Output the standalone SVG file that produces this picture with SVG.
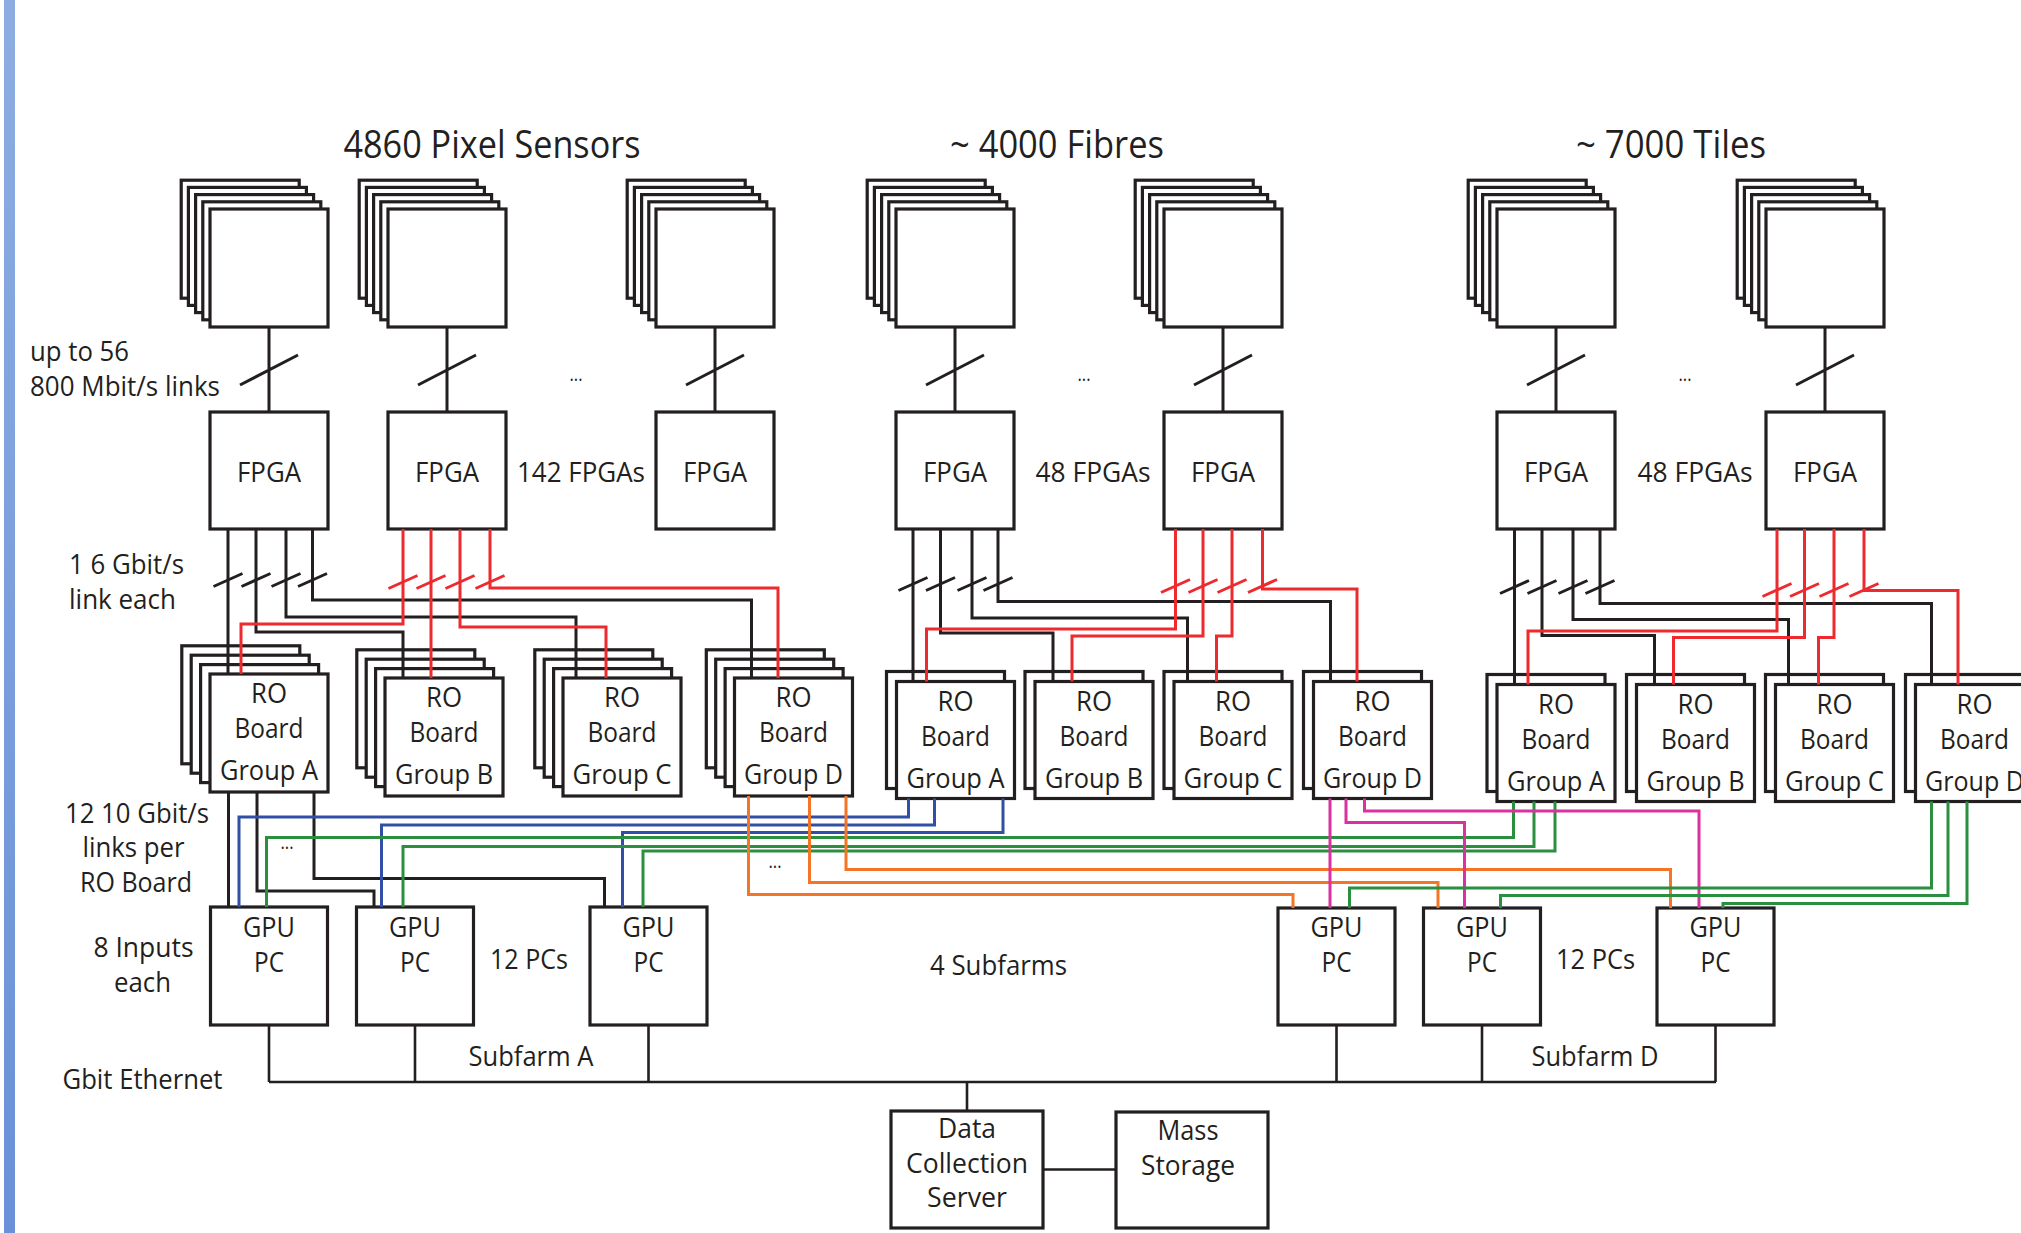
<svg xmlns="http://www.w3.org/2000/svg" width="2021" height="1233" viewBox="0 0 2021 1233">
<style>
text{font-family:"Open Sans","Noto Sans","DejaVu Sans",sans-serif;font-size:28px;fill:#231f20}
.c{text-anchor:middle}
.ti{font-size:39px}
.dots{font-size:20px}
.bx{fill:#fff;stroke:#231f20;stroke-width:3.2}
.w{fill:none;stroke-width:3;stroke-linejoin:miter;stroke-linecap:butt}
.k{stroke:#231f20}
.r{stroke:#ee2a2f}
.b{stroke:#3150a5}
.g{stroke:#2a9040}
.o{stroke:#f47525}
.m{stroke:#dc30a0}
.eth{fill:none;stroke:#231f20;stroke-width:2.6}
</style>
<defs>
<linearGradient id="bar" x1="0" y1="0" x2="0" y2="1">
<stop offset="0" stop-color="#8dade2"/><stop offset="1" stop-color="#6a91d7"/>
</linearGradient>
<g id="sstack" fill="#fff" stroke="#231f20" stroke-width="3.2">
<rect x="-28.8" y="-28.8" width="118" height="118"/>
<rect x="-21.6" y="-21.6" width="118" height="118"/>
<rect x="-14.4" y="-14.4" width="118" height="118"/>
<rect x="-7.2" y="-7.2" width="118" height="118"/>
<rect x="0" y="0" width="118" height="118"/>
</g>
<g id="rstack3" fill="#fff" stroke="#231f20" stroke-width="3.2">
<rect x="-28.2" y="-28.2" width="118" height="118"/>
<rect x="-18.8" y="-18.8" width="118" height="118"/>
<rect x="-9.4" y="-9.4" width="118" height="118"/>
<rect x="0" y="0" width="118" height="118"/>
</g>
<g id="rstack1" fill="#fff" stroke="#231f20" stroke-width="3.2">
<rect x="-10" y="-10" width="118" height="117"/>
<rect x="0" y="0" width="118" height="117"/>
</g>
</defs>
<rect x="0" y="0" width="2021" height="1233" fill="#fff"/>
<rect x="4" y="0" width="11" height="1233" fill="url(#bar)"/>

<g id="labels">
<text class="c ti" x="492" y="158" textLength="297" lengthAdjust="spacingAndGlyphs">4860 Pixel Sensors</text>
<text class="c ti" x="1057" y="158" textLength="214" lengthAdjust="spacingAndGlyphs">~ 4000 Fibres</text>
<text class="c ti" x="1671" y="158" textLength="190" lengthAdjust="spacingAndGlyphs">~ 7000 Tiles</text>
<text x="30" y="361" textLength="99" lengthAdjust="spacingAndGlyphs">up to 56</text>
<text x="30" y="396" textLength="190" lengthAdjust="spacingAndGlyphs">800 Mbit/s links</text>
<text class="c dots" x="576" y="381" textLength="13" lengthAdjust="spacingAndGlyphs">...</text>
<text class="c dots" x="1084" y="381" textLength="13" lengthAdjust="spacingAndGlyphs">...</text>
<text class="c dots" x="1685" y="381" textLength="13" lengthAdjust="spacingAndGlyphs">...</text>
<text class="c" x="581" y="482" textLength="128" lengthAdjust="spacingAndGlyphs">142 FPGAs</text>
<text class="c" x="1093" y="482" textLength="115" lengthAdjust="spacingAndGlyphs">48 FPGAs</text>
<text class="c" x="1695" y="482" textLength="115" lengthAdjust="spacingAndGlyphs">48 FPGAs</text>
<text x="69" y="574" textLength="115" lengthAdjust="spacingAndGlyphs">1 6 Gbit/s</text>
<text x="69" y="608.5" textLength="107" lengthAdjust="spacingAndGlyphs">link each</text>
<text class="c" x="137" y="822.5" textLength="144" lengthAdjust="spacingAndGlyphs">12 10 Gbit/s</text>
<text class="c" x="133.5" y="857" textLength="102" lengthAdjust="spacingAndGlyphs">links per</text>
<text class="c" x="136" y="892" textLength="112" lengthAdjust="spacingAndGlyphs">RO Board</text>
<text class="c dots" x="287" y="849" textLength="13" lengthAdjust="spacingAndGlyphs">...</text>
<text class="c dots" x="775" y="868" textLength="13" lengthAdjust="spacingAndGlyphs">...</text>
<text class="c" x="143.5" y="957" textLength="100" lengthAdjust="spacingAndGlyphs">8 Inputs</text>
<text class="c" x="142.5" y="992" textLength="57" lengthAdjust="spacingAndGlyphs">each</text>
<text class="c" x="529" y="968.5" textLength="78" lengthAdjust="spacingAndGlyphs">12 PCs</text>
<text class="c" x="1595.5" y="968.5" textLength="79" lengthAdjust="spacingAndGlyphs">12 PCs</text>
<text class="c" x="998.5" y="975" textLength="137" lengthAdjust="spacingAndGlyphs">4 Subfarms</text>
<text class="c" x="531" y="1065.5" textLength="125" lengthAdjust="spacingAndGlyphs">Subfarm A</text>
<text class="c" x="1595" y="1065.5" textLength="127" lengthAdjust="spacingAndGlyphs">Subfarm D</text>
<text x="62.5" y="1089" textLength="160" lengthAdjust="spacingAndGlyphs">Gbit Ethernet</text>
</g>

<g id="sensor-px1"><use href="#sstack" x="210" y="209"/></g>
<g id="sensor-px2"><use href="#sstack" x="388" y="209"/></g>
<g id="sensor-px3"><use href="#sstack" x="656" y="209"/></g>
<g id="sensor-fb1"><use href="#sstack" x="896" y="209"/></g>
<g id="sensor-fb2"><use href="#sstack" x="1164" y="209"/></g>
<g id="sensor-tl1"><use href="#sstack" x="1497" y="209"/></g>
<g id="sensor-tl2"><use href="#sstack" x="1766" y="209"/></g>

<g id="fpga-px1"><rect class="bx" x="210" y="412" width="118" height="117"/><text class="c" x="269" y="482" textLength="64" lengthAdjust="spacingAndGlyphs">FPGA</text></g>
<g id="fpga-px2"><rect class="bx" x="388" y="412" width="118" height="117"/><text class="c" x="447" y="482" textLength="64" lengthAdjust="spacingAndGlyphs">FPGA</text></g>
<g id="fpga-px3"><rect class="bx" x="656" y="412" width="118" height="117"/><text class="c" x="715" y="482" textLength="64" lengthAdjust="spacingAndGlyphs">FPGA</text></g>
<g id="fpga-fb1"><rect class="bx" x="896" y="412" width="118" height="117"/><text class="c" x="955" y="482" textLength="64" lengthAdjust="spacingAndGlyphs">FPGA</text></g>
<g id="fpga-fb2"><rect class="bx" x="1164" y="412" width="118" height="117"/><text class="c" x="1223" y="482" textLength="64" lengthAdjust="spacingAndGlyphs">FPGA</text></g>
<g id="fpga-tl1"><rect class="bx" x="1497" y="412" width="118" height="117"/><text class="c" x="1556" y="482" textLength="64" lengthAdjust="spacingAndGlyphs">FPGA</text></g>
<g id="fpga-tl2"><rect class="bx" x="1766" y="412" width="118" height="117"/><text class="c" x="1825" y="482" textLength="64" lengthAdjust="spacingAndGlyphs">FPGA</text></g>

<g id="ro-px-a"><use href="#rstack3" x="210" y="674"/><text class="c" x="269" y="703" textLength="36" lengthAdjust="spacingAndGlyphs">RO</text><text class="c" x="269" y="738" textLength="69" lengthAdjust="spacingAndGlyphs">Board</text><text class="c" x="269" y="780" textLength="98" lengthAdjust="spacingAndGlyphs">Group A</text></g>
<g id="ro-px-b"><use href="#rstack3" x="385" y="678"/><text class="c" x="444" y="707" textLength="36" lengthAdjust="spacingAndGlyphs">RO</text><text class="c" x="444" y="742" textLength="69" lengthAdjust="spacingAndGlyphs">Board</text><text class="c" x="444" y="784" textLength="98" lengthAdjust="spacingAndGlyphs">Group B</text></g>
<g id="ro-px-c"><use href="#rstack3" x="563" y="678"/><text class="c" x="622" y="707" textLength="36" lengthAdjust="spacingAndGlyphs">RO</text><text class="c" x="622" y="742" textLength="69" lengthAdjust="spacingAndGlyphs">Board</text><text class="c" x="622" y="784" textLength="99" lengthAdjust="spacingAndGlyphs">Group C</text></g>
<g id="ro-px-d"><use href="#rstack3" x="734.5" y="678"/><text class="c" x="793.5" y="707" textLength="36" lengthAdjust="spacingAndGlyphs">RO</text><text class="c" x="793.5" y="742" textLength="69" lengthAdjust="spacingAndGlyphs">Board</text><text class="c" x="793.5" y="784" textLength="99" lengthAdjust="spacingAndGlyphs">Group D</text></g>

<g id="ro-fb-a"><use href="#rstack1" x="896.5" y="681.5"/><text class="c" x="955.5" y="710.5" textLength="36" lengthAdjust="spacingAndGlyphs">RO</text><text class="c" x="955.5" y="745.5" textLength="69" lengthAdjust="spacingAndGlyphs">Board</text><text class="c" x="955.5" y="787.5" textLength="98" lengthAdjust="spacingAndGlyphs">Group A</text></g>
<g id="ro-fb-b"><use href="#rstack1" x="1035" y="681.5"/><text class="c" x="1094" y="710.5" textLength="36" lengthAdjust="spacingAndGlyphs">RO</text><text class="c" x="1094" y="745.5" textLength="69" lengthAdjust="spacingAndGlyphs">Board</text><text class="c" x="1094" y="787.5" textLength="98" lengthAdjust="spacingAndGlyphs">Group B</text></g>
<g id="ro-fb-c"><use href="#rstack1" x="1174" y="681.5"/><text class="c" x="1233" y="710.5" textLength="36" lengthAdjust="spacingAndGlyphs">RO</text><text class="c" x="1233" y="745.5" textLength="69" lengthAdjust="spacingAndGlyphs">Board</text><text class="c" x="1233" y="787.5" textLength="99" lengthAdjust="spacingAndGlyphs">Group C</text></g>
<g id="ro-fb-d"><use href="#rstack1" x="1313.5" y="681.5"/><text class="c" x="1372.5" y="710.5" textLength="36" lengthAdjust="spacingAndGlyphs">RO</text><text class="c" x="1372.5" y="745.5" textLength="69" lengthAdjust="spacingAndGlyphs">Board</text><text class="c" x="1372.5" y="787.5" textLength="99" lengthAdjust="spacingAndGlyphs">Group D</text></g>

<g id="ro-tl-a"><use href="#rstack1" x="1497" y="684.5"/><text class="c" x="1556" y="713.5" textLength="36" lengthAdjust="spacingAndGlyphs">RO</text><text class="c" x="1556" y="748.5" textLength="69" lengthAdjust="spacingAndGlyphs">Board</text><text class="c" x="1556" y="790.5" textLength="98" lengthAdjust="spacingAndGlyphs">Group A</text></g>
<g id="ro-tl-b"><use href="#rstack1" x="1636.5" y="684.5"/><text class="c" x="1695.5" y="713.5" textLength="36" lengthAdjust="spacingAndGlyphs">RO</text><text class="c" x="1695.5" y="748.5" textLength="69" lengthAdjust="spacingAndGlyphs">Board</text><text class="c" x="1695.5" y="790.5" textLength="98" lengthAdjust="spacingAndGlyphs">Group B</text></g>
<g id="ro-tl-c"><use href="#rstack1" x="1775.5" y="684.5"/><text class="c" x="1834.5" y="713.5" textLength="36" lengthAdjust="spacingAndGlyphs">RO</text><text class="c" x="1834.5" y="748.5" textLength="69" lengthAdjust="spacingAndGlyphs">Board</text><text class="c" x="1834.5" y="790.5" textLength="99" lengthAdjust="spacingAndGlyphs">Group C</text></g>
<g id="ro-tl-d"><use href="#rstack1" x="1915.5" y="684.5"/><text class="c" x="1974.5" y="713.5" textLength="36" lengthAdjust="spacingAndGlyphs">RO</text><text class="c" x="1974.5" y="748.5" textLength="69" lengthAdjust="spacingAndGlyphs">Board</text><text class="c" x="1974.5" y="790.5" textLength="99" lengthAdjust="spacingAndGlyphs">Group D</text></g>

<g id="gpu-a1"><rect class="bx" x="210.5" y="907" width="117" height="118"/><text class="c" x="269" y="937" textLength="52" lengthAdjust="spacingAndGlyphs">GPU</text><text class="c" x="269" y="972" textLength="30" lengthAdjust="spacingAndGlyphs">PC</text></g>
<g id="gpu-a2"><rect class="bx" x="356.5" y="907" width="117" height="118"/><text class="c" x="415" y="937" textLength="52" lengthAdjust="spacingAndGlyphs">GPU</text><text class="c" x="415" y="972" textLength="30" lengthAdjust="spacingAndGlyphs">PC</text></g>
<g id="gpu-a3"><rect class="bx" x="590" y="907" width="117" height="118"/><text class="c" x="648.5" y="937" textLength="52" lengthAdjust="spacingAndGlyphs">GPU</text><text class="c" x="648.5" y="972" textLength="30" lengthAdjust="spacingAndGlyphs">PC</text></g>
<g id="gpu-d1"><rect class="bx" x="1278" y="908" width="117" height="117"/><text class="c" x="1336.5" y="937" textLength="52" lengthAdjust="spacingAndGlyphs">GPU</text><text class="c" x="1336.5" y="972" textLength="30" lengthAdjust="spacingAndGlyphs">PC</text></g>
<g id="gpu-d2"><rect class="bx" x="1423.5" y="908" width="117" height="117"/><text class="c" x="1482" y="937" textLength="52" lengthAdjust="spacingAndGlyphs">GPU</text><text class="c" x="1482" y="972" textLength="30" lengthAdjust="spacingAndGlyphs">PC</text></g>
<g id="gpu-d3"><rect class="bx" x="1657" y="908" width="117" height="117"/><text class="c" x="1715.5" y="937" textLength="52" lengthAdjust="spacingAndGlyphs">GPU</text><text class="c" x="1715.5" y="972" textLength="30" lengthAdjust="spacingAndGlyphs">PC</text></g>

<g id="data-collection"><rect class="bx" x="891" y="1111" width="152" height="117"/><text class="c" x="967" y="1137.5" textLength="58" lengthAdjust="spacingAndGlyphs">Data</text><text class="c" x="967" y="1172.5" textLength="122" lengthAdjust="spacingAndGlyphs">Collection</text><text class="c" x="967" y="1206.5" textLength="80" lengthAdjust="spacingAndGlyphs">Server</text></g>
<g id="mass-storage"><rect class="bx" x="1116" y="1112" width="152" height="116"/><text class="c" x="1188" y="1140" textLength="61" lengthAdjust="spacingAndGlyphs">Mass</text><text class="c" x="1188" y="1175" textLength="94" lengthAdjust="spacingAndGlyphs">Storage</text></g>

<g id="connectors">
<path class="w k" d="M269,327V412M240,385L298,355M447,327V412M418,385L476,355M715,327V412M686,385L744,355M955,327V412M926,385L984,355M1223,327V412M1194,385L1252,355M1556,327V412M1527,385L1585,355M1825,327V412M1796,385L1854,355"/>
<path class="w k" d="M228,529V674M256,529V632H403V678M286,529V617H576V678M312.5,529V600H751.5V678"/>
<path class="w k" d="M213.5,586.5L242.5,573.5M241.5,586.5L270.5,573.5M271.5,586.5L300.5,573.5M298,586.5L327,573.5"/>
<path class="w r" d="M403,529V624H241V674M431,529V678M460,529V627H606V678M490,529V588H778V678"/>
<path class="w r" d="M388.5,588.5L417.5,575.5M416.5,588.5L445.5,575.5M445.5,588.5L474.5,575.5M475.5,588.5L504.5,575.5"/>
<path class="w k" d="M913,529V681.5M940.5,529V633H1053V681.5M972,529V618H1187.5V681.5M998,529V601.5H1330.5V681.5"/>
<path class="w k" d="M898.5,590.5L927.5,577.5M926,590.5L955,577.5M957.5,590.5L986.5,577.5M983.5,590.5L1012.5,577.5"/>
<path class="w r" d="M1175.5,529V629H926.5V681.5M1203,529V636H1072V681.5M1232,529V636H1216.5V681.5M1262.5,529V589H1357V681.5"/>
<path class="w r" d="M1161,592.5L1190,579.5M1188.5,592.5L1217.5,579.5M1217.5,592.5L1246.5,579.5M1248,592.5L1277,579.5"/>
<path class="w k" d="M1514.5,529V684.5M1542,529V635.5H1654.5V684.5M1573,529V619.5H1788.5V684.5M1600,529V603.5H1931.5V684.5"/>
<path class="w k" d="M1500,593.5L1529,580.5M1527.5,593.5L1556.5,580.5M1558.5,593.5L1587.5,580.5M1585.5,593.5L1614.5,580.5"/>
<path class="w r" d="M1777,529V631H1528V684.5M1804.5,529V637.5H1673.5V684.5M1834,529V637.5H1818.5V684.5M1864,529V590.5H1958V684.5"/>
<path class="w r" d="M1762.5,596.5L1791.5,583.5M1790,596.5L1819,583.5M1819.5,596.5L1848.5,583.5M1849.5,596.5L1878.5,583.5"/>
<path class="w k" d="M228.5,792V907M257,792V891H374V907M314,792V878.5H604.5V907"/>
<path class="w b" d="M908.5,798.5V817H239V907M934.5,798.5V825H381.5V907M1003,798.5V832.5H622.5V907"/>
<path class="w g" d="M1513.5,801.5V837.5H266.5V907M1534,801.5V846.5H403V907M1555,801.5V851H643V907"/>
<path class="w o" d="M846,796V869.5H1670.5V908M809.5,796V882.5H1438V908M748.5,796V894.5H1293V908"/>
<path class="w m" d="M1330,798.5V908M1346,798.5V822.5H1464.5V908M1364.5,798.5V811H1699V908"/>
<path class="w g" d="M1931.5,801.5V888H1349.5V908M1948,801.5V895.5H1500.5V908M1967,801.5V903.5H1723V908"/>
<path class="eth" d="M269,1025V1082M415,1025V1082M648.5,1025V1082M1336.5,1025V1082M1482,1025V1082M1715.5,1025V1082M967,1082V1111"/>
<path class="eth" stroke-width="3.4" d="M269,1082H1716"/>
<path class="eth" stroke-width="4" d="M1043,1169.5H1116"/>
</g>
</svg>
